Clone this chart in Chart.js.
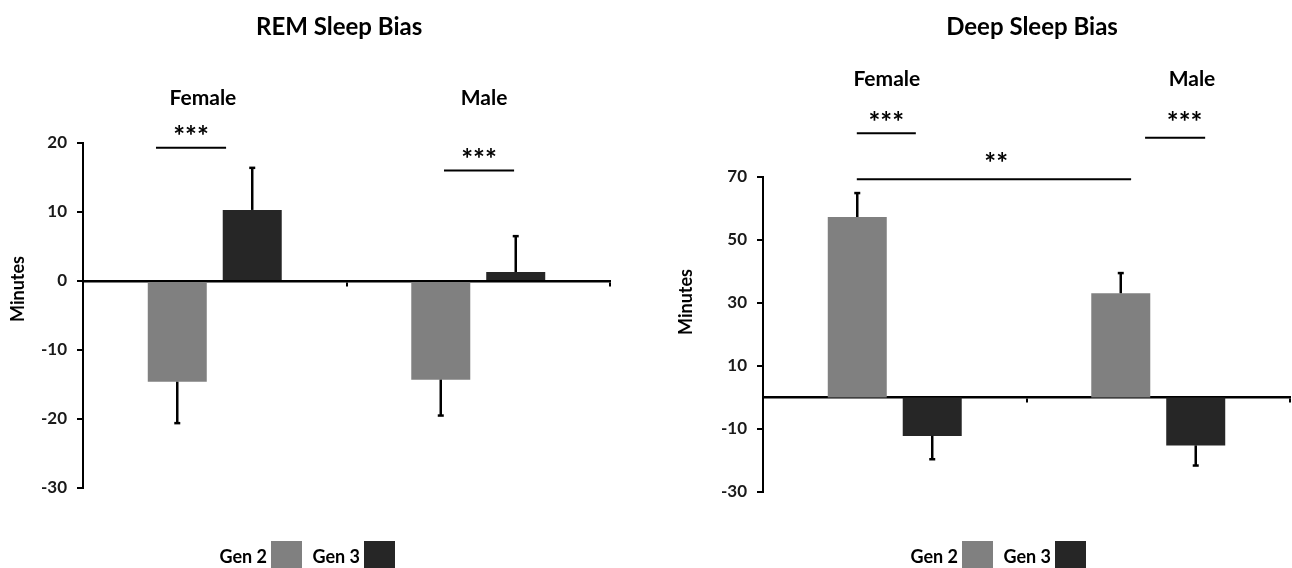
<!DOCTYPE html>
<html>
<head>
<meta charset="utf-8">
<title>Sleep Bias</title>
<script src="https://cdn.jsdelivr.net/npm/chart.js@4.4.0/dist/chart.umd.min.js"></script>
<style>
    html, body { margin: 0; padding: 0; background: #fff; }
    .wrap { display: flex; width: 1292px; height: 568px; }
    .panel { width: 646px; height: 568px; }
</style>
</head>
<body>
<div class="wrap">
    <div class="panel"><canvas id="remChart" width="646" height="568"></canvas></div>
    <div class="panel"><canvas id="deepChart" width="646" height="568"></canvas></div>
</div>
<script>
const categories = ['Female', 'Male'];
const seriesNames = ['Gen 2', 'Gen 3'];
const seriesColors = ['#808080', '#262626'];

// REM sleep bias (minutes), error = one-sided SEM
const remGen2 = [-14.6, -14.3];
const remGen2Err = [6.0, 5.2];
const remGen3 = [10.3, 1.3];
const remGen3Err = [6.1, 5.2];
const remTicks = [-30, -20, -10, 0, 10, 20];

// Deep sleep bias (minutes)
const deepGen2 = [57.3, 33.1];
const deepGen2Err = [7.6, 6.4];
const deepGen3 = [-12.2, -15.2];
const deepGen3Err = [7.4, 6.4];
const deepTicks = [-30, -10, 10, 30, 50, 70];

// significance markers, in category / value units
const remBrackets = [
    { from: -0.223, to: 0.043, y: 19.3, text: '***', textY: 21.7 },
    { from: 0.87, to: 1.136, y: 16.0, text: '***', textY: 18.4 }
];
const deepBrackets = [
    { from: -0.144, to: 0.08, y: 83.9, text: '***', textY: 89.1 },
    { from: 0.95, to: 1.178, y: 82.5, text: '***', textY: 89.1, textAt: 1.1 },
    { from: -0.144, to: 0.897, y: 69.3, text: '**', textY: 75.9, textAt: 0.385 }
];

const FONT = 'Lato, "Open Sans", sans-serif';

const overlayPlugin = {
    id: 'overlay',
    afterDatasetsDraw(chart, args, opts) {
        const ctx = chart.ctx;
        const xs = chart.scales.x;
        const ys = chart.scales.y;
        const area = chart.chartArea;

        // error bars
        chart.data.datasets.forEach((ds, i) => {
            const meta = chart.getDatasetMeta(i);
            meta.data.forEach((bar, j) => {
                const v = ds.data[j];
                const end = v + Math.sign(v) * ds.errors[j];
                const py = ys.getPixelForValue(end);
                ctx.save();
                ctx.strokeStyle = '#000';
                ctx.lineWidth = 2.5;
                ctx.beginPath();
                ctx.moveTo(bar.x, bar.y);
                ctx.lineTo(bar.x, py);
                ctx.stroke();
                ctx.beginPath();
                ctx.moveTo(bar.x - 3, py);
                ctx.lineTo(bar.x + 3, py);
                ctx.stroke();
                ctx.restore();
            });
        });

        ctx.save();
        ctx.fillStyle = '#000';
        ctx.textAlign = 'center';

        // title
        ctx.font = 'bold 24px ' + FONT;
        ctx.textBaseline = 'middle';
        ctx.fillText(opts.title, xs.getPixelForValue(opts.titleAt), opts.titleY);

        // group labels
        ctx.font = 'bold 21px ' + FONT;
        categories.forEach((c, i) => {
            ctx.fillText(c, xs.getPixelForValue(opts.labelAt[i]), ys.getPixelForValue(opts.labelY));
        });

        // brackets
        opts.brackets.forEach(b => {
            const py = ys.getPixelForValue(b.y);
            const x1 = xs.getPixelForValue(b.from);
            const x2 = xs.getPixelForValue(b.to);
            ctx.strokeStyle = '#000';
            ctx.lineWidth = 2;
            ctx.beginPath();
            ctx.moveTo(x1, py);
            ctx.lineTo(x2, py);
            ctx.stroke();
            const tx = b.textAt !== undefined ? xs.getPixelForValue(b.textAt) : (x1 + x2) / 2;
            ctx.font = 'bold 28px ' + FONT;
            ctx.textBaseline = 'alphabetic';
            // asterisk glyph centre sits ~0.55em above the baseline
            ctx.fillText(b.text, tx, ys.getPixelForValue(b.textY) + 15);
        });

        // y axis title
        ctx.save();
        ctx.translate(opts.yTitleX, opts.yTitleY);
        ctx.rotate(-Math.PI / 2);
        ctx.font = 'bold 18px ' + FONT;
        ctx.textBaseline = 'middle';
        ctx.fillText('Minutes', 0, 0);
        ctx.restore();

        // legend: label left of swatch
        ctx.font = 'bold 18px ' + FONT;
        ctx.textAlign = 'right';
        ctx.textBaseline = 'alphabetic';
        chart.data.datasets.forEach((ds, i) => {
            const bx = area.left + opts.legendLeft + i * 93;
            ctx.fillStyle = '#000';
            ctx.fillText(ds.label, bx - 4, 563);
            ctx.fillStyle = ds.backgroundColor;
            ctx.fillRect(bx, 541, 31, 31);
        });
        ctx.restore();
    }
};

function makeChart(id, gen2, gen2Err, gen3, gen3Err, ticks, padding, overlay) {
    const ctx = document.getElementById(id).getContext('2d');
    return new Chart(ctx, {
        type: 'bar',
        data: {
            labels: categories,
            datasets: [
                { label: seriesNames[0], data: gen2, errors: gen2Err, backgroundColor: seriesColors[0] },
                { label: seriesNames[1], data: gen3, errors: gen3Err, backgroundColor: seriesColors[1] }
            ]
        },
        options: {
            responsive: false,
            animation: false,
            categoryPercentage: 0.569,
            barPercentage: 0.787,
            layout: { padding: padding },
            plugins: {
                legend: { display: false },
                title: { display: false },
                tooltip: { enabled: false },
                overlay: overlay
            },
            scales: {
                x: {
                    position: { y: 0 },
                    grid: { display: true, drawOnChartArea: false, drawTicks: true, tickLength: 4, offset: true, color: '#000', lineWidth: 2 },
                    border: { display: true, color: '#000', width: 2.5 },
                    ticks: { display: false }
                },
                y: {
                    min: ticks[0],
                    max: ticks[ticks.length - 1],
                    afterBuildTicks: s => { s.ticks = ticks.map(v => ({ value: v })); },
                    afterFit: s => { s.width = overlay.yWidth; },
                    grid: { display: true, drawOnChartArea: false, drawTicks: true, tickLength: 6, color: '#000', lineWidth: 2 },
                    border: { display: true, color: '#000', width: 2 },
                    ticks: { font: { family: FONT, size: 17, weight: 'bold' }, color: '#1a1a1a', padding: 10 }
                }
            }
        },
        plugins: [overlayPlugin]
    });
}

makeChart('remChart', remGen2, remGen2Err, remGen3, remGen3Err, remTicks,
    { left: 0, right: 36, top: 143, bottom: 80 },
    {
        title: 'REM Sleep Bias', titleAt: 0.472, titleY: 27,
        labelAt: [-0.045, 1.022], labelY: 26.5,
        brackets: remBrackets,
        yWidth: 83, yTitleX: 18, yTitleY: 289,
        legendLeft: 188
    });

makeChart('deepChart', deepGen2, deepGen2Err, deepGen3, deepGen3Err, deepTicks,
    { left: 0, right: 2, top: 177, bottom: 76 },
    {
        title: 'Deep Sleep Bias', titleAt: 0.521, titleY: 27,
        labelAt: [-0.03, 1.128], labelY: 100.9,
        brackets: deepBrackets,
        yWidth: 117, yTitleX: 40, yTitleY: 302,
        legendLeft: 199
    });
</script>
</body>
</html>
